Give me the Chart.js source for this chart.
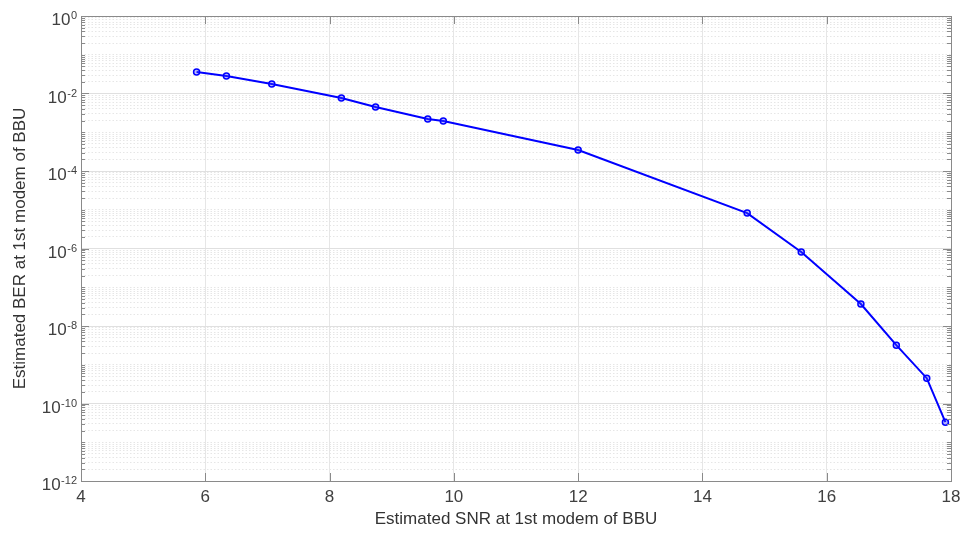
<!DOCTYPE html>
<html><head><meta charset="utf-8">
<script src="https://cdn.jsdelivr.net/npm/chart.js@4.4.1/dist/chart.umd.min.js"></script>
<style>html,body{margin:0;padding:0;background:#fff}#wrap{width:963px;height:533px}</style>
</head><body><div id="wrap"><canvas id="c" width="963" height="533"></canvas></div>
<script>
const snr = [5.86, 6.34, 7.07, 8.19, 8.74, 9.58, 9.83, 12.0, 14.72, 15.59, 16.55, 17.12, 17.61, 17.91];
const ber = [3.6e-2, 2.83e-2, 1.76e-2, 7.65e-3, 4.5e-3, 2.2e-3, 1.95e-3, 3.48e-4, 8.2e-6, 8.1e-7, 3.7e-8, 3.2e-9, 4.5e-10, 3.3e-11];
const xTicks = [4, 6, 8, 10, 12, 14, 16, 18];
const yLabelExponents = [0, -2, -4, -6, -8, -10, -12];
const xTitle = 'Estimated SNR at 1st modem of BBU';
const yTitle = 'Estimated BER at 1st modem of BBU';

const FONT = 'Liberation Sans, Arial, Helvetica, sans-serif';
const TEXT = '#404040';

function decadeOf(v){ const l = Math.log10(v); const r = Math.round(l); return Math.abs(l - r) < 1e-6 ? r : null; }
function isLabeled(v){ const d = decadeOf(v); return d !== null && yLabelExponents.includes(d); }

const overlay = {
  id: 'overlay',
  afterDraw(chart){
    const ctx = chart.ctx, a = chart.chartArea;
    const xs = chart.scales.x, ys = chart.scales.y;
    ctx.save();
    ctx.strokeStyle = '#8a8a8a';
    ctx.lineWidth = 1;
    ctx.beginPath();
    xTicks.forEach(t => {
      const px = Math.round(xs.getPixelForValue(t)) + 0.5;
      ctx.moveTo(px, a.bottom); ctx.lineTo(px, a.bottom - 8);
      ctx.moveTo(px, a.top); ctx.lineTo(px, a.top + 8);
    });
    ys.ticks.forEach(t => {
      const py = Math.round(ys.getPixelForValue(t.value)) + 0.5;
      const len = isLabeled(t.value) ? 8 : 4;
      ctx.moveTo(a.left, py); ctx.lineTo(a.left + len, py);
      ctx.moveTo(a.right, py); ctx.lineTo(a.right - len, py);
    });
    ctx.stroke();
    ctx.strokeRect(Math.round(a.left) + 0.5, Math.round(a.top) + 0.5, Math.round(a.right - a.left), Math.round(a.bottom - a.top));
    ctx.fillStyle = TEXT;
    ctx.textBaseline = 'alphabetic';
    ctx.textAlign = 'right';
    const right = a.left - 4;
    yLabelExponents.forEach(n => {
      const py = ys.getPixelForValue(Math.pow(10, n));
      const exp = String(n);
      ctx.font = '11px ' + FONT;
      ctx.fillText(exp, right, py + 3);
      const w = ctx.measureText(exp).width;
      ctx.font = '17px ' + FONT;
      ctx.fillText('10', right - w - 0.5, py + 9);
    });
    ctx.restore();
  }
};

new Chart(document.getElementById('c'), {
  type: 'line',
  data: {
    datasets: [{
      data: snr.map((x, i) => ({x: x, y: ber[i]})),
      borderColor: '#0000ff',
      borderWidth: 2,
      pointRadius: 3,
      pointBorderWidth: 1.5,
      pointBorderColor: '#0000ff',
      pointBackgroundColor: 'rgba(60,60,255,0.35)',
      tension: 0,
      clip: false
    }]
  },
  plugins: [overlay],
  options: {
    responsive: false,
    animation: false,
    layout: { padding: { top: 16, right: 12, left: 0, bottom: 0 } },
    plugins: { legend: { display: false }, tooltip: { enabled: false } },
    scales: {
      x: {
        type: 'linear', min: 4, max: 18,
        afterBuildTicks: s => { s.ticks = xTicks.map(v => ({value: v})); },
        afterFit: s => { s.height = 52; s.paddingLeft = 0; s.paddingRight = 0; },
        ticks: { color: TEXT, font: { family: FONT, size: 17 }, padding: 6, autoSkip: false, maxRotation: 0 },
        grid: { color: '#e6e6e6', lineWidth: 1, drawTicks: false },
        border: { display: false },
        title: { display: true, text: xTitle, color: '#333333', font: { family: FONT, size: 17 }, padding: { top: 0, bottom: 3 } }
      },
      y: {
        type: 'logarithmic', min: 1e-12, max: 1,
        afterBuildTicks: s => {
          const t = [];
          for (let n = -12; n <= -1; n++) for (let k = 1; k <= 9; k++) t.push({value: k * Math.pow(10, n)});
          t.push({value: 1});
          s.ticks = t;
        },
        afterFit: s => { s.width = 81; s.paddingTop = 0; s.paddingBottom = 0; },
        ticks: { display: false, autoSkip: false },
        grid: {
          drawTicks: false,
          lineWidth: 1,
          color: c => (c.tick && isLabeled(c.tick.value)) ? '#e0e0e0' : '#e6e6e6'
        },
        border: {
          display: false,
          dash: c => (c.tick && isLabeled(c.tick.value)) ? [] : [1.5, 2]
        },
        title: { display: true, text: yTitle, color: '#333333', font: { family: FONT, size: 17 }, padding: { top: 10, bottom: 0 } }
      }
    }
  }
});
</script>
</body></html>
